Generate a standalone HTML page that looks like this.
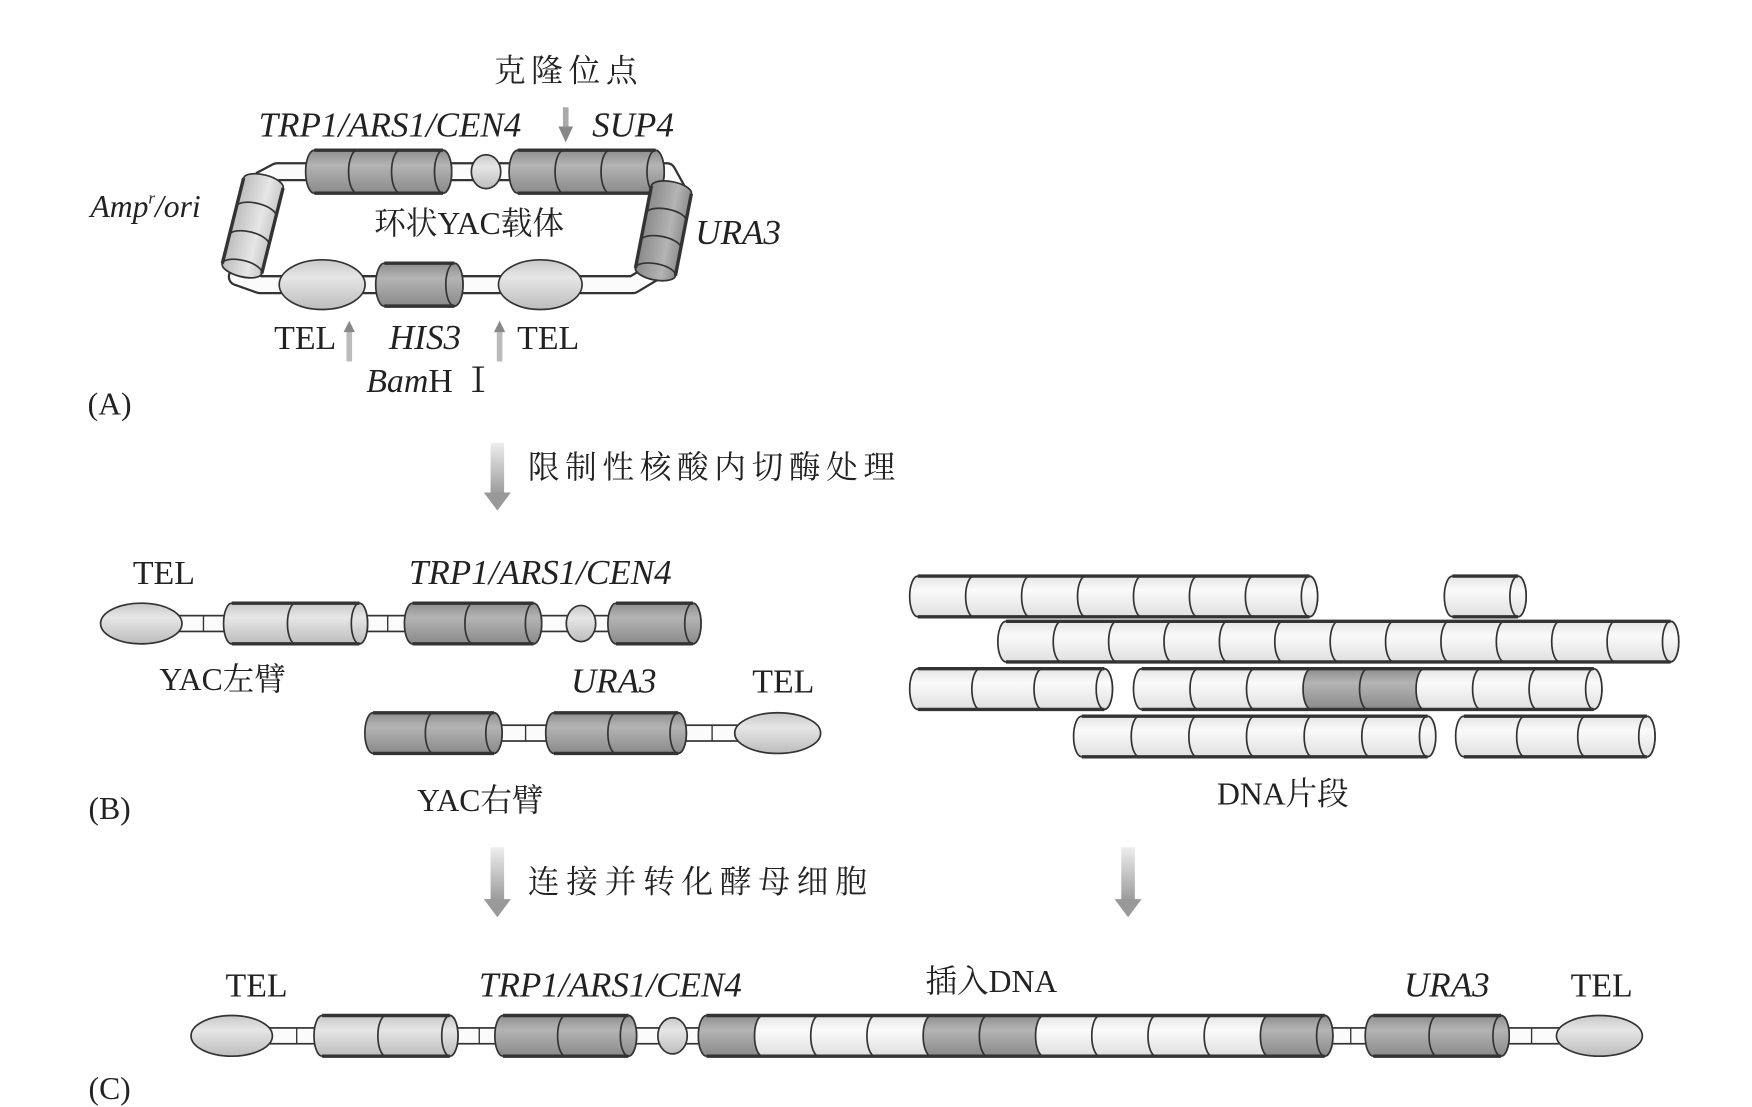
<!DOCTYPE html>
<html><head><meta charset="utf-8"><style>
html,body{margin:0;padding:0;background:#fff;width:1752px;height:1107px;overflow:hidden}
svg{display:block}
text{font-family:"Liberation Serif","Noto Serif CJK SC","Noto Sans CJK SC",serif;fill:#222}
.i{font-style:italic}
</style></head><body>
<svg id="s" width="1752" height="1107" viewBox="0 0 1550 980" preserveAspectRatio="none" xmlns="http://www.w3.org/2000/svg">
<defs>
<linearGradient id="gL" x1="0" y1="0" x2="0" y2="1"><stop offset="0" stop-color="#c8c8c8"/><stop offset=".35" stop-color="#e6e6e6"/><stop offset="1" stop-color="#bdbdbd"/></linearGradient>
<linearGradient id="gD" x1="0" y1="0" x2="0" y2="1"><stop offset="0" stop-color="#8e8e8e"/><stop offset=".35" stop-color="#b4b4b4"/><stop offset="1" stop-color="#8a8a8a"/></linearGradient>
<linearGradient id="gW" x1="0" y1="0" x2="0" y2="1"><stop offset="0" stop-color="#e4e4e4"/><stop offset=".35" stop-color="#fafafa"/><stop offset="1" stop-color="#e0e0e0"/></linearGradient>
<linearGradient id="gA" x1="0" y1="0" x2="0" y2="1"><stop offset="0" stop-color="#eee"/><stop offset="1" stop-color="#999"/></linearGradient>
</defs>
<g id="g"></g>
</svg>
<script>
var out='';
function cyl(x1,x2,cy,h,n,fills){var r=h/2,rx=h*0.2,w=(x2-x1)/n;var s='';
for(var k=0;k<n;k++){var a=x1+k*w,b=a+w,f=fills[k]||fills[0];
s+='<path d="M'+a+','+(cy-r)+' L'+b+','+(cy-r)+' A'+rx+','+r+' 0 0 1 '+b+','+(cy+r)+' L'+a+','+(cy+r)+' A'+rx+','+r+' 0 0 1 '+a+','+(cy-r)+'Z" fill="url(#'+f+')" stroke="#333" stroke-width="1.5"/>';}
s+='<ellipse cx="'+x2+'" cy="'+cy+'" rx="'+rx+'" ry="'+r+'" fill="url(#'+(fills[n-1]||fills[0])+')" stroke="#333" stroke-width="1.5"/>';
s+='<line x1="'+x1+'" y1="'+(cy-r)+'" x2="'+x2+'" y2="'+(cy-r)+'" stroke="#333" stroke-width="3"/><line x1="'+x1+'" y1="'+(cy+r)+'" x2="'+x2+'" y2="'+(cy+r)+'" stroke="#333" stroke-width="3"/>';
return s;}
function tube(x1,x2,cy){return '<rect x="'+x1+'" y="'+(cy-7)+'" width="'+(x2-x1)+'" height="14" fill="#fbfbfb" stroke="#333" stroke-width="1.5"/><line x1="'+((x1+x2)/2)+'" y1="'+(cy-7)+'" x2="'+((x1+x2)/2)+'" y2="'+(cy+7)+'" stroke="#333" stroke-width="1.2"/>';}
function ell(cx,cy,rx,ry){return '<ellipse cx="'+cx+'" cy="'+cy+'" rx="'+rx+'" ry="'+ry+'" fill="url(#gL)" stroke="#333" stroke-width="1.5"/>';}
function T(x,y,t,sz,cls,anc,ls){return '<text x="'+x+'" y="'+y+'" font-size="'+(sz||26)+'" text-anchor="'+(anc||'middle')+'"'+(cls?' class="'+cls+'"':'')+(ls?' letter-spacing="'+ls+'"':'')+'>'+t+'</text>';}
function arrowD(x,y1,y2,w){w=w||12;return '<rect x="'+(x-w/2)+'" y="'+y1+'" width="'+w+'" height="'+(y2-y1-14)+'" fill="url(#gA)"/><polygon points="'+(x-w)+','+(y2-16)+' '+(x+w)+','+(y2-16)+' '+x+','+y2+'" fill="#999"/>';}
function arrowU(x,y1,y2){return '<rect x="'+(x-2.5)+'" y="'+(y2+8)+'" width="5" height="'+(y1-y2-8)+'" fill="#bbb"/><polygon points="'+(x-5)+','+(y2+10)+' '+(x+5)+','+(y2+10)+' '+x+','+y2+'" fill="#888"/>';}
// ---- A ----
out+=T(503,72,'克隆位点',28,'','middle',5);
out+=T(345,121,'TRP1/ARS1/CEN4',31,'i');
out+=T(560,121,'SUP4',31,'i');
out+='<rect x="498" y="95" width="5" height="18" fill="#aaa"/><polygon points="494,112 507,112 500.5,126" fill="#888"/>';
var ring='M230,160 L245,152 L590,152 L600,170 L580,240 L560,252 L230,252 L210,245 L232,160';
out+='<path d="'+ring+'" fill="none" stroke="#333" stroke-width="17" stroke-linejoin="round"/>';
out+='<path d="'+ring+'" fill="none" stroke="#fbfbfb" stroke-width="13" stroke-linejoin="round"/>';
out+=cyl(278,392,152,38,3,['gD','gD','gD']);
out+=ell(430,152,13,15);
out+=cyl(458,580,152,38,3,['gD','gD','gD']);
out+='<g transform="translate(233,162) rotate(104)">'+cyl(0,78,0,36,3,['gL','gL','gL'])+'</g>';
out+='<g transform="translate(594,168) rotate(101)">'+cyl(0,74,0,36,3,['gD','gD','gD'])+'</g>';
out+=ell(285,252,38,22);
out+=cyl(340,402,252,38,1,['gD']);
out+=ell(478,252,37,22);
out+=T(415,207,'环状YAC载体',28);
out+='<text x="80" y="192" font-size="28" class="i">Amp<tspan font-size="15" dy="-12">r</tspan><tspan dy="12">/ori</tspan></text>';
out+=T(653,216,'URA3',31,'i');
out+=T(270,309,'TEL',30);out+=arrowU(309,320,284);
out+=T(376,309,'HIS3',31,'i');out+=arrowU(442,320,284);
out+=T(485,309,'TEL',30);
out+='<text x="324" y="347" font-size="30"><tspan font-style="italic">Bam</tspan>H Ⅰ</text>';
out+=T(97,367,'(A)',28);
out+=arrowD(440,392,452,12);
out+=T(467,423,'限制性核酸内切酶处理',28,'','start',5);
// ---- B ----
out+=T(145,517,'TEL',30);
out+=T(478,517,'TRP1/ARS1/CEN4',31,'i');
out+=tube(150,210,552);out+=tube(318,368,552);out+=tube(472,545,552);
out+=ell(125,552,36,18);
out+=cyl(205,318,552,36,2,['gL','gL']);
out+=cyl(365,472,552,36,2,['gD','gD']);
out+=ell(514,552,13,16);
out+=cyl(545,613,552,36,1,['gD']);
out+=T(197,611,'YAC左臂',28);
out+=T(543,613,'URA3',31,'i');out+=T(693,613,'TEL',30);
out+=tube(435,495,649);out+=tube(600,660,649);
out+=cyl(330,437,649,36,2,['gD','gD']);
out+=cyl(490,600,649,36,2,['gD','gD']);
out+=ell(688,649,38,18);
out+=T(425,718,'YAC右臂',28);
out+=T(97,725,'(B)',28);
function frag(x1,n,cy,dark,w){w=w||48.5;var f=[];for(var k=0;k<n;k++)f.push(dark&&dark.indexOf(k)>=0?'gD':'gW');return cyl(x1,x1+n*w,cy,36,n,f);}
out+=frag(812,7,528,null,49.5);out+=cyl(1285,1343,528,36,1,['gW']);
out+=frag(890,12,568,null,49);
out+=frag(812,3,610,null,55);out+=frag(1010,8,610,[3,4],50);
out+=frag(957,6,652,null,51);out+=frag(1295,3,652,null,54);
out+=T(1135,712,'DNA片段',28);
out+=arrowD(440,750,812,12);
out+=T(467,790,'连接并转化酵母细胞',28,'','start',6);
out+=arrowD(998,750,812,12);
// ---- C ----
out+=T(227,882,'TEL',30);out+=T(540,882,'TRP1/ARS1/CEN4',31,'i');
out+=T(877,878,'插入DNA',28);out+=T(1280,882,'URA3',31,'i');out+=T(1417,882,'TEL',30);
out+=tube(235,290,917);out+=tube(398,450,917);out+=tube(558,630,917);out+=tube(1170,1220,917);out+=tube(1325,1385,917);
out+=ell(205,917,36,18);
out+=cyl(285,398,917,36,2,['gL','gL']);
out+=cyl(445,556,917,36,2,['gD','gD']);
out+=ell(595,917,13,16);
var fc=[];for(var k=0;k<11;k++)fc.push(k==0||k==10?'gD':(k==4||k==5?'gD':'gW'));
out+=cyl(625,1172,917,36,11,fc);
out+=cyl(1215,1328,917,36,2,['gD','gD']);
out+=ell(1415,917,38,18);
out+=T(97,973,'(C)',28);
document.getElementById('g').innerHTML=out;
</script>
</body></html>
